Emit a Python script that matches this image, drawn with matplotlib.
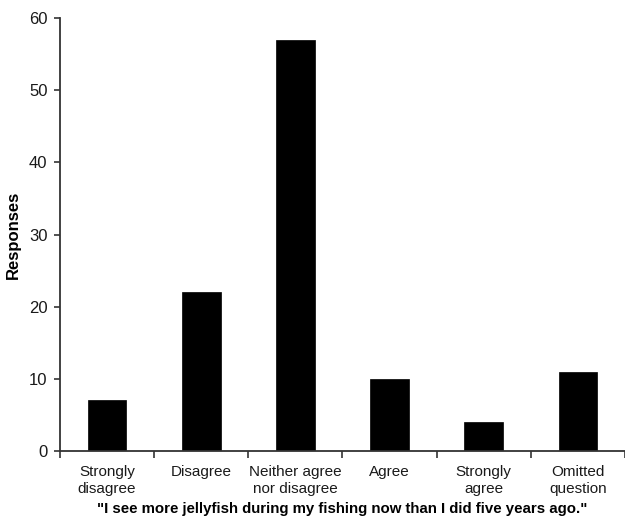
import numpy as np
import matplotlib
matplotlib.use("Agg")
import matplotlib.pyplot as plt

plt.rcParams['font.family'] = ['Liberation Sans', 'DejaVu Sans']

categorias = ["Strongly\ndisagree", "Disagree", "Neither agree\nnor disagree",
              "Agree", "Strongly\nagree", "Omitted\nquestion"]
respuestas = [7, 22, 57, 10, 4, 11]
ticks_y = [0, 10, 20, 30, 40, 50, 60]

fig = plt.figure(figsize=(6.25, 5.2), dpi=100)
ax = fig.add_axes([0.096, 0.133, 0.904, 0.832])

x = np.arange(len(categorias))
ax.bar(x, respuestas, width=0.41, color="black", edgecolor="black", linewidth=0.5)

ax.set_xlim(-0.5, len(categorias) - 0.5)
ax.set_ylim(0, 60)
ax.set_yticks(ticks_y)
ax.set_xticks(x)
ax.set_xticklabels(categorias, fontsize=11, linespacing=1.3, color="#1a1a1a")
ax.set_xticks(np.arange(len(categorias) + 1) - 0.5, minor=True)
ax.tick_params(axis="x", which="major", length=0, pad=10)
ax.tick_params(axis="x", which="minor", length=5, width=1.2, direction="out", color="#333333")
ax.tick_params(axis="y", length=4, width=1.2, direction="out", labelsize=12, pad=5,
               color="#333333", labelcolor="#1a1a1a")

for lado in ["top", "right"]:
    ax.spines[lado].set_visible(False)
for lado in ["left", "bottom"]:
    ax.spines[lado].set_linewidth(1.3)
    ax.spines[lado].set_color("#333333")

ax.set_ylabel("Responses", fontsize=12, fontweight="bold", labelpad=6)
ax.set_xlabel('"I see more jellyfish during my fishing now than I did five years ago."',
              fontsize=10.8, fontweight="bold", labelpad=4)

fig.savefig("out.png", dpi=100)
